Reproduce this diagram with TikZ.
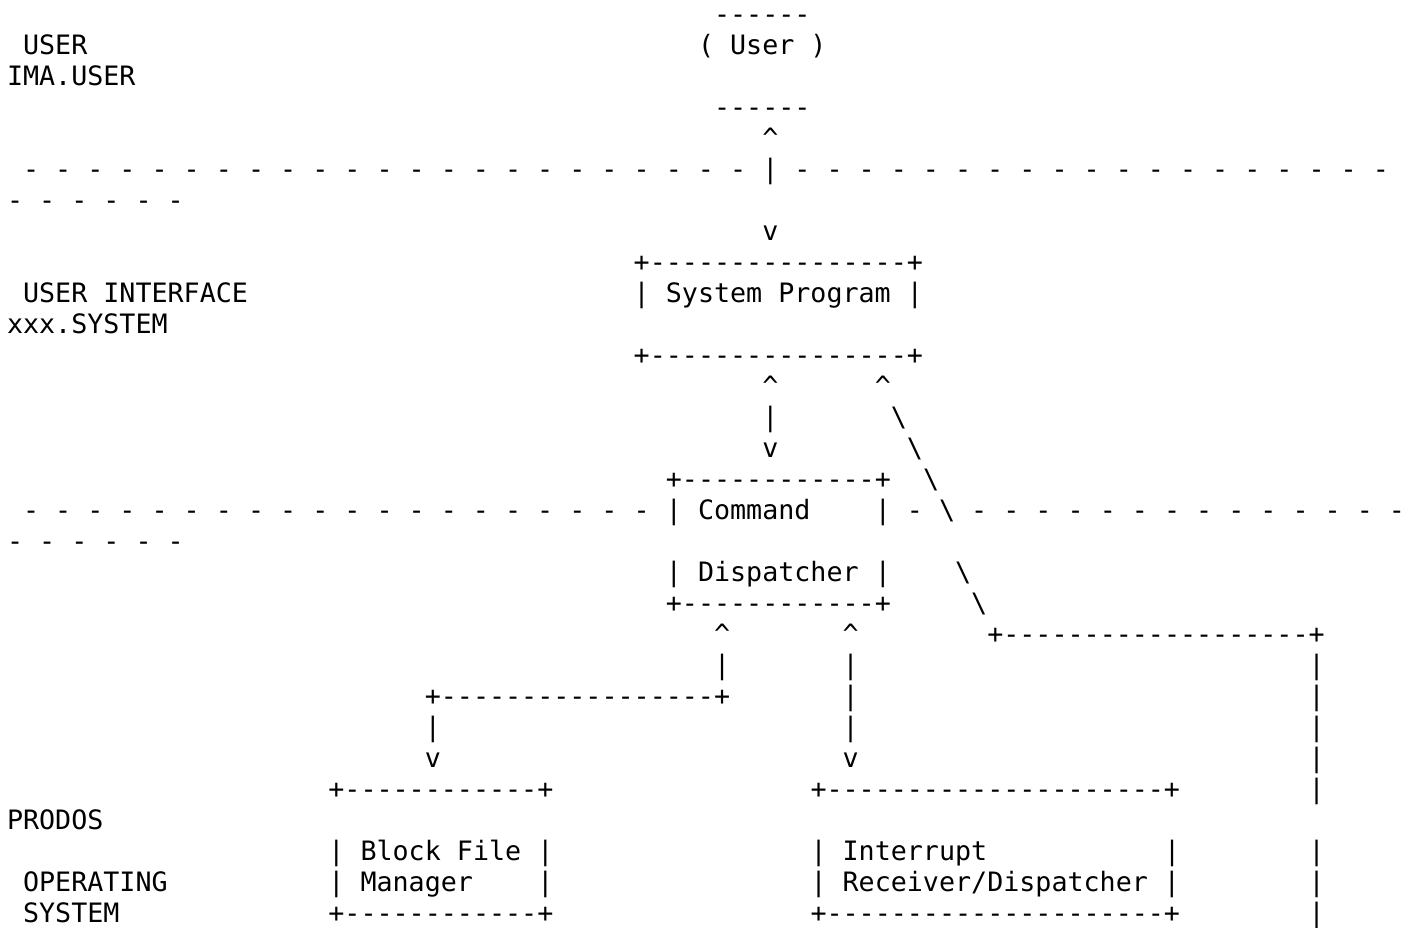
\documentclass[tikz,border=0pt]{standalone}
\usepackage{fontspec}
\setmonofont{DejaVu Sans Mono}
\ExplSyntaxOn
\cs_new_eq:NN \AsciiRep \prg_replicate:nn
\ExplSyntaxOff
\tikzset{txt/.style={anchor=base west,inner sep=0pt,outer sep=0pt,text=black,
  font={\ttfamily\fontsize{26.69pt}{31.07pt}\selectfont}}}
\newcommand\AsciiSeg[4]{\node[txt] (#1) at ({7+#2*16.07},{-23.8-(#3-1)*31.0}) {#4};}
\begin{document}
\begin{tikzpicture}[x=1pt,y=1pt]
\useasboundingbox (0,0) rectangle (1408,-928);
\AsciiSeg{userTop}{44}{1}{\AsciiRep{6}{-}}
\AsciiSeg{lblUser}{1}{2}{USER}
\AsciiSeg{user}{43}{2}{( User )}
\AsciiSeg{lblIma}{0}{3}{IMA.USER}
\AsciiSeg{userBot}{44}{4}{\AsciiRep{6}{-}}
\AsciiSeg{upA}{47}{5}{\textasciicircum}
\AsciiSeg{sepAL}{1}{6}{\AsciiRep{22}{- }-}
\AsciiSeg{linkA}{47}{6}{|}
\AsciiSeg{sepAR}{49}{6}{\AsciiRep{18}{- }-}
\AsciiSeg{sepAW}{0}{7}{\AsciiRep{5}{- }-}
\AsciiSeg{downA}{47}{8}{v}
\AsciiSeg{sysTop}{39}{9}{+\AsciiRep{16}{-}+}
\AsciiSeg{lblUI}{1}{10}{USER INTERFACE}
\AsciiSeg{sys}{39}{10}{| System Program |}
\AsciiSeg{lblXxx}{0}{11}{xxx.SYSTEM}
\AsciiSeg{sysBot}{39}{12}{+\AsciiRep{16}{-}+}
\AsciiSeg{upB}{47}{13}{\textasciicircum}
\AsciiSeg{upC}{54}{13}{\textasciicircum}
\AsciiSeg{linkB}{47}{14}{|}
\AsciiSeg{diagA}{55}{14}{\textbackslash}
\AsciiSeg{downB}{47}{15}{v}
\AsciiSeg{diagB}{56}{15}{\textbackslash}
\AsciiSeg{cmdTop}{41}{16}{+\AsciiRep{12}{-}+}
\AsciiSeg{diagC}{57}{16}{\textbackslash}
\AsciiSeg{sepBL}{1}{17}{\AsciiRep{19}{- }-}
\AsciiSeg{cmd}{41}{17}{| Command}
\AsciiSeg{cmdR}{54}{17}{|}
\AsciiSeg{sepBM}{56}{17}{-}
\AsciiSeg{diagD}{58}{17}{\textbackslash}
\AsciiSeg{sepBR}{60}{17}{\AsciiRep{13}{- }-}
\AsciiSeg{sepBW}{0}{18}{\AsciiRep{5}{- }-}
\AsciiSeg{disp}{41}{19}{| Dispatcher |}
\AsciiSeg{diagE}{59}{19}{\textbackslash}
\AsciiSeg{cmdBot}{41}{20}{+\AsciiRep{12}{-}+}
\AsciiSeg{diagF}{60}{20}{\textbackslash}
\AsciiSeg{upD}{44}{21}{\textasciicircum}
\AsciiSeg{upE}{52}{21}{\textasciicircum}
\AsciiSeg{hookTop}{61}{21}{+\AsciiRep{19}{-}+}
\AsciiSeg{linkC}{44}{22}{|}
\AsciiSeg{linkD}{52}{22}{|}
\AsciiSeg{hookA}{81}{22}{|}
\AsciiSeg{split}{26}{23}{+\AsciiRep{17}{-}+}
\AsciiSeg{linkE}{52}{23}{|}
\AsciiSeg{hookB}{81}{23}{|}
\AsciiSeg{linkF}{26}{24}{|}
\AsciiSeg{linkG}{52}{24}{|}
\AsciiSeg{hookC}{81}{24}{|}
\AsciiSeg{downC}{26}{25}{v}
\AsciiSeg{downD}{52}{25}{v}
\AsciiSeg{hookD}{81}{25}{|}
\AsciiSeg{bfmTop}{20}{26}{+\AsciiRep{12}{-}+}
\AsciiSeg{irdTop}{50}{26}{+\AsciiRep{21}{-}+}
\AsciiSeg{hookE}{81}{26}{|}
\AsciiSeg{lblProdos}{0}{27}{PRODOS}
\AsciiSeg{bfm}{20}{28}{| Block File |}
\AsciiSeg{ird}{50}{28}{| Interrupt}
\AsciiSeg{irdR}{72}{28}{|}
\AsciiSeg{hookF}{81}{28}{|}
\AsciiSeg{lblOp}{1}{29}{OPERATING}
\AsciiSeg{bfmB}{20}{29}{| Manager}
\AsciiSeg{bfmR}{33}{29}{|}
\AsciiSeg{irdB}{50}{29}{| Receiver/Dispatcher |}
\AsciiSeg{hookG}{81}{29}{|}
\AsciiSeg{lblSys}{1}{30}{SYSTEM}
\AsciiSeg{bfmBot}{20}{30}{+\AsciiRep{12}{-}+}
\AsciiSeg{irdBot}{50}{30}{+\AsciiRep{21}{-}+}
\AsciiSeg{hookH}{81}{30}{|}
\end{tikzpicture}
\end{document}
